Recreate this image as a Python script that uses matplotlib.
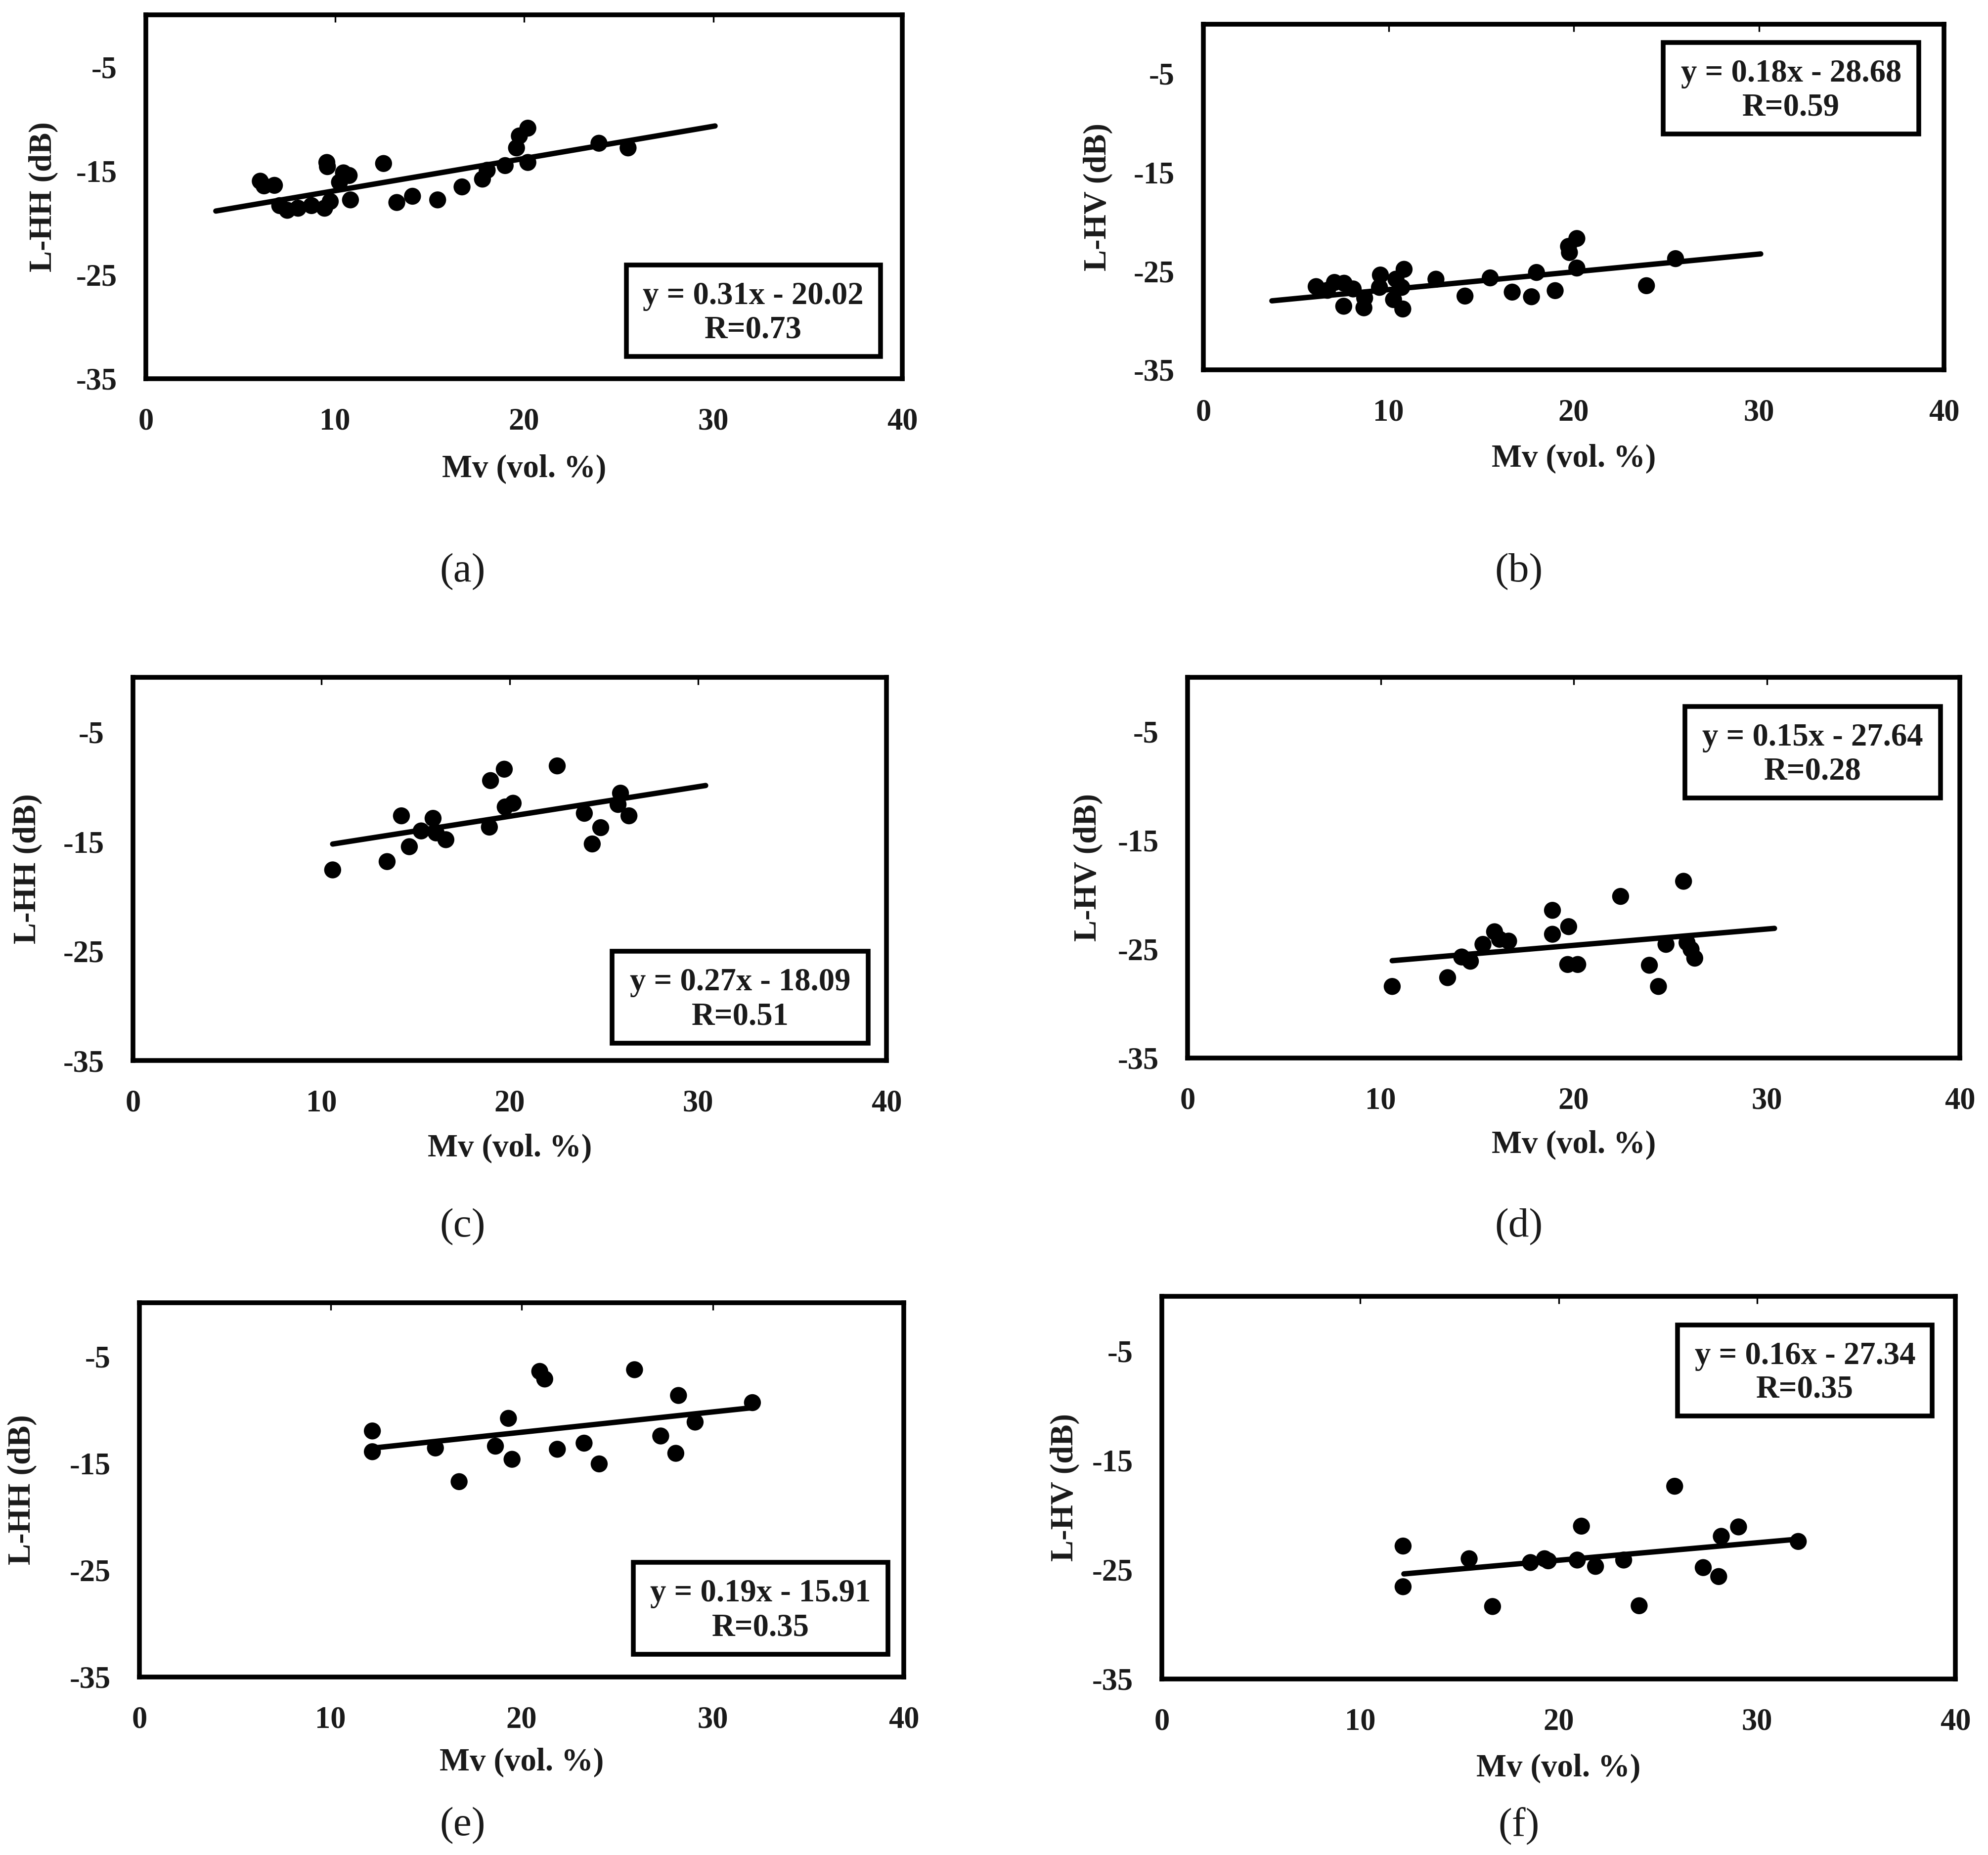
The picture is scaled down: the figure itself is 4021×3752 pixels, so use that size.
import matplotlib
matplotlib.use("Agg")
import matplotlib.pyplot as plt
from matplotlib.patches import Rectangle

plt.rcParams["axes.unicode_minus"] = False

# ---------------- data ----------------
a_x = [6.05, 6.25, 6.8, 9.57, 9.6, 10.45, 10.75, 10.24, 12.57, 7.08, 7.48, 8.05, 8.76, 9.45, 9.75,
       10.82, 13.27, 14.1, 15.43, 16.72, 17.8, 18.05, 19.0, 19.6, 19.75, 20.2, 20.2, 23.96, 25.5]
a_y = [-16.0, -16.45, -16.4, -14.2, -14.6, -15.2, -15.45, -16.1, -14.3, -18.35, -18.8, -18.6, -18.35, -18.6, -17.95,
       -17.8, -18.05, -17.45, -17.8, -16.55, -15.8, -14.95, -14.5, -12.8, -11.65, -10.9, -14.2, -12.35, -12.8]

b_x = [6.09, 6.7, 7.08, 7.6, 8.09, 7.58, 8.71, 8.67, 9.56, 9.51, 10.84, 10.4, 10.71, 10.27, 10.77, 12.56,
       14.13, 15.49, 16.68, 17.72, 17.99, 19.0, 19.72, 19.77, 20.17, 20.17, 23.93, 25.5]
b_y = [-26.57, -26.95, -26.15, -26.23, -26.81, -28.56, -27.73, -28.72, -25.4, -26.65, -24.82, -25.82, -26.65, -27.89, -28.84, -25.82,
       -27.53, -25.69, -27.13, -27.6, -25.14, -26.98, -22.5, -23.12, -21.7, -24.69, -26.48, -23.74]

c_x = [10.6, 13.49, 14.25, 14.67, 15.3, 15.93, 16.09, 16.61, 18.92, 18.98, 19.71, 19.76, 20.18, 22.52,
       23.96, 24.38, 24.83, 25.88, 25.75, 26.33]
c_y = [-17.59, -16.83, -12.65, -15.47, -14.03, -12.88, -14.21, -14.83, -13.68, -9.43, -8.39, -11.84, -11.5, -8.09,
       -12.42, -15.22, -13.73, -10.58, -11.61, -12.65]

d_x = [10.6, 13.47, 14.2, 14.65, 15.3, 15.9, 16.16, 16.63, 18.9, 18.9, 19.74, 19.69, 20.21, 22.43,
       23.92, 24.39, 24.78, 25.69, 25.87, 26.08, 26.27]
d_y = [-28.42, -27.61, -25.71, -26.1, -24.55, -23.39, -24.08, -24.25, -21.42, -23.62, -22.92, -26.4, -26.4, -20.14,
       -26.47, -28.42, -24.55, -18.75, -24.39, -25.01, -25.82]

e_x = [12.19, 12.19, 15.49, 16.73, 18.63, 19.31, 19.5, 20.95, 21.21, 21.87, 23.27, 24.06, 25.91, 27.28,
       28.21, 28.07, 29.08, 32.08]
e_y = [-11.99, -13.93, -13.58, -16.73, -13.41, -10.81, -14.64, -6.42, -7.13, -13.7, -13.13, -15.07, -6.26, -12.46,
       -8.67, -14.08, -11.16, -9.34]

f_x = [12.16, 12.16, 15.49, 16.67, 18.58, 19.29, 19.48, 20.94, 21.15, 21.86, 23.28, 24.06, 25.85, 27.29,
       28.2, 28.07, 29.07, 32.08]
f_y = [-22.84, -26.56, -24.0, -28.37, -24.35, -24.0, -24.19, -24.12, -21.02, -24.7, -24.12, -28.3, -17.37, -24.81,
       -21.95, -25.63, -21.09, -22.42]

slopes = [0.31, 0.18, 0.27, 0.15, 0.19, 0.16]
intercepts = [-20.02, -28.68, -18.09, -27.64, -15.91, -27.34]
r_values = [0.73, 0.59, 0.51, 0.28, 0.35, 0.35]
trend_start = [3.7, 3.7, 10.6, 10.6, 12.2, 12.2]
trend_end = [30.1, 30.1, 30.4, 30.4, 32.1, 32.1]
y_labels = ["L-HH (dB)", "L-HV (dB)", "L-HH (dB)", "L-HV (dB)", "L-HH (dB)", "L-HV (dB)"]
captions = ["(a)", "(b)", "(c)", "(d)", "(e)", "(f)"]
x_ticks = [0, 10, 20, 30, 40]
y_ticks = [-5, -15, -25, -35]
x_label = "Mv (vol. %)"

xs = [a_x, b_x, c_x, d_x, e_x, f_x]
ys = [a_y, b_y, c_y, d_y, e_y, f_y]

# ---------------- layout (pixels of the 4021x3752 canvas) ----------------
W, H = 4021, 3752
frames = [(295, 1825, 30, 766), (2434, 3932, 49, 748),
          (269, 1793, 1370, 2145), (2402, 3964, 1370, 2140),
          (282, 1828, 2635, 3392), (2350, 3955, 2622, 3396)]
boxes = [(0.635, 0.971, 0.061, 0.3125), (0.621, 0.966, 0.682, 0.947),
         (0.636, 0.976, 0.045, 0.285), (0.644, 0.975, 0.683, 0.923),
         (0.646, 0.979, 0.061, 0.306), (0.650, 0.971, 0.687, 0.925)]
xlab_pos = [-0.249, -0.258, -0.23, -0.229, -0.229, -0.234]
ylab_pos = [-0.135, -0.142, -0.14, -0.129, -0.153, -0.122]
cap_pos = [(936, 1157), (3072, 1157), (936, 2482), (3072, 2482), (936, 3693), (3072, 3693)]

TXT = "#1a1a1a"
FONT = "Liberation Serif"

fig = plt.figure(figsize=(W / 300, H / 300), dpi=300)
fig.patch.set_facecolor("white")

for i in range(6):
    L, R, T, B = frames[i]
    ax = fig.add_axes([L / W, 1 - B / H, (R - L) / W, (B - T) / H])
    ax.set_xlim(0, 40)
    ax.set_ylim(-35, 0)
    ax.scatter(xs[i], ys[i], s=68, color="black", edgecolors="none", zorder=3)
    tx = [trend_start[i], trend_end[i]]
    ty = [slopes[i] * v + intercepts[i] for v in tx]
    ax.plot(tx, ty, color="black", lw=2.6, solid_capstyle="round", zorder=4)

    for sp in ax.spines.values():
        sp.set_linewidth(2.3)
        sp.set_color("black")
    ax.set_xticks(x_ticks)
    ax.set_yticks(y_ticks)
    ax.tick_params(axis="x", bottom=False, top=True, direction="in", length=3.6, width=0.8,
                   labelbottom=True, labeltop=False, pad=14, labelsize=15, labelcolor=TXT)
    ax.tick_params(axis="y", left=False, right=False, direction="in", pad=14,
                   labelsize=15, labelcolor=TXT)
    for lab in ax.get_xticklabels() + ax.get_yticklabels():
        lab.set_fontfamily(FONT)
        lab.set_fontweight("bold")

    ax.set_xlabel(x_label, fontsize=15.5, fontweight="bold", fontfamily=FONT, color=TXT, va="center")
    ax.xaxis.set_label_coords(0.5, xlab_pos[i])
    ax.set_ylabel(y_labels[i], fontsize=15.5, fontweight="bold", fontfamily=FONT, color=TXT, va="center")
    ax.yaxis.set_label_coords(ylab_pos[i], 0.5)

    bx0, bx1, by0, by1 = boxes[i]
    ax.add_patch(Rectangle((bx0, by0), bx1 - bx0, by1 - by0, transform=ax.transAxes,
                           facecolor="white", edgecolor="black", lw=2.3, zorder=5, clip_on=False))
    cx = (bx0 + bx1) / 2
    bh = by1 - by0
    sign = "-" if intercepts[i] < 0 else "+"
    eq = f"y = {slopes[i]:.2f}x {sign} {abs(intercepts[i]):.2f}"
    ax.text(cx, by0 + 0.66 * bh, eq, transform=ax.transAxes, ha="center", va="center",
            fontsize=15.5, fontweight="bold", fontfamily=FONT, color=TXT, zorder=6)
    ax.text(cx, by0 + 0.29 * bh, f"R={r_values[i]:.2f}", transform=ax.transAxes, ha="center",
            va="center", fontsize=15.5, fontweight="bold", fontfamily=FONT, color=TXT, zorder=6)

    px, py = cap_pos[i]
    fig.text(px / W, 1 - py / H, captions[i], ha="center", va="center", fontsize=20,
             fontfamily=FONT, color=TXT)

fig.savefig("out.png", dpi=300, facecolor="white")
